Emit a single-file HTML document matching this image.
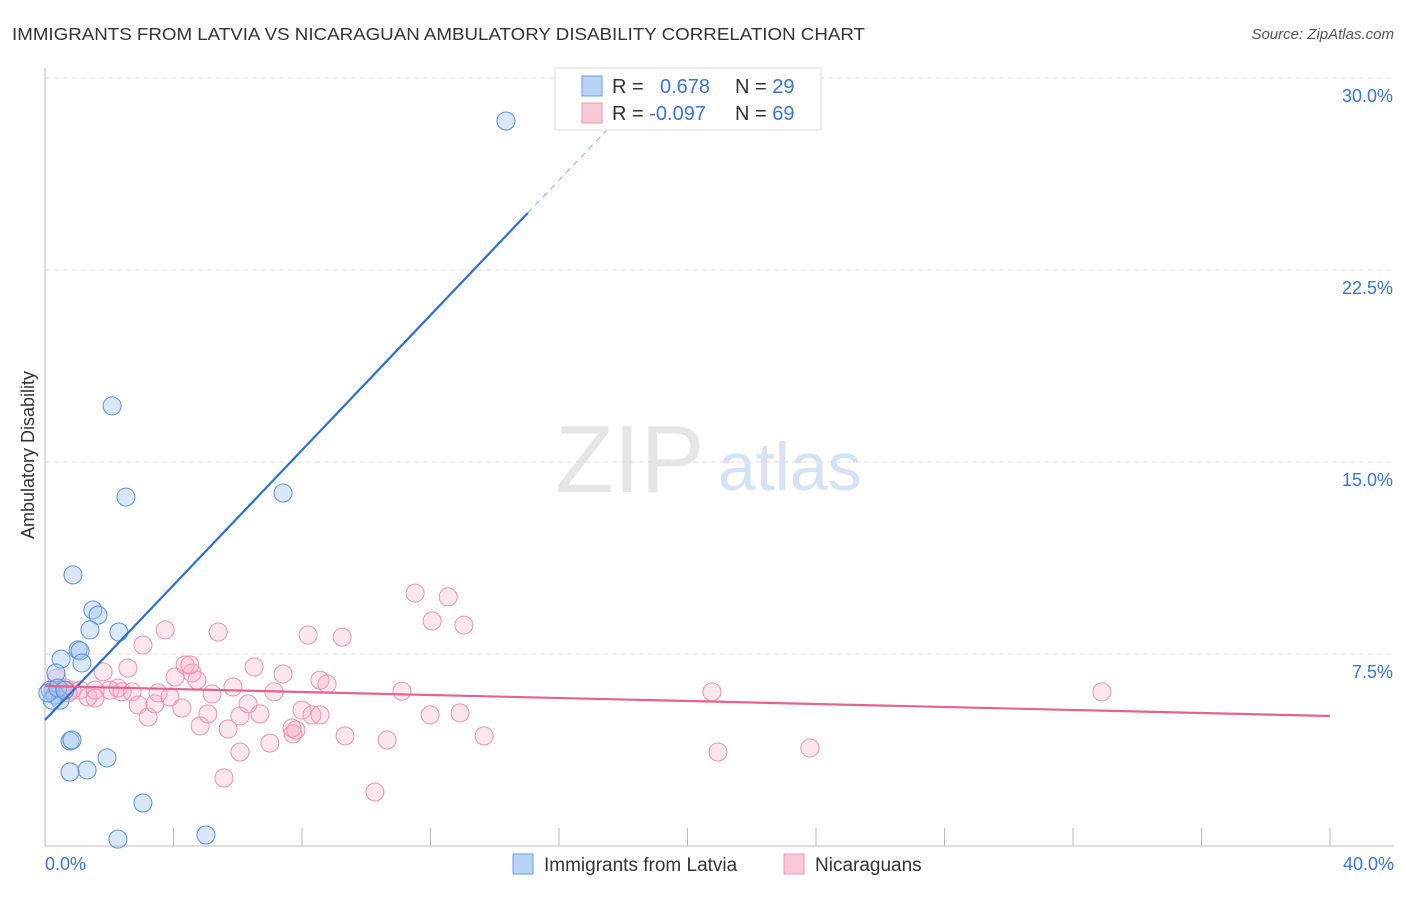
<!DOCTYPE html>
<html><head><meta charset="utf-8"><style>
body{margin:0;background:#fff;font-family:"Liberation Sans",sans-serif}
svg text{font-family:"Liberation Sans",sans-serif}
</style></head><body>
<svg width="1406" height="892" viewBox="0 0 1406 892">
<text x="12" y="40" font-size="17.5" fill="#333" textLength="853" lengthAdjust="spacingAndGlyphs">IMMIGRANTS FROM LATVIA VS NICARAGUAN AMBULATORY DISABILITY CORRELATION CHART</text>
<text x="1394" y="39" font-size="15" fill="#555" font-style="italic" text-anchor="end">Source: ZipAtlas.com</text>
<text x="555" y="492" font-size="96" fill="#e6e6e6" font-family="Liberation Serif">ZIP</text>
<text x="718" y="490" font-size="68" fill="#d6e3f5">atlas</text>
<g id="grid"></g>
<g id="axes"></g>
<text transform="translate(34,455) rotate(-90)" font-size="18" fill="#333" text-anchor="middle">Ambulatory Disability</text>
<g id="pts"></g>
<g id="lines"></g>
<g>
<rect x="555" y="68" width="266" height="62" fill="#fff" stroke="#ddd"/>
<rect x="582" y="76" width="20" height="20" fill="#b9d3f5" stroke="#6a9de0"/>
<rect x="582" y="103" width="20" height="20" fill="#fbc8d7" stroke="#ec98b2"/>
<text x="612" y="93" font-size="20" fill="#333">R = <tspan x="660" fill="#3a74d4">0.678</tspan><tspan x="735" fill="#333">N = </tspan><tspan fill="#3a74d4">29</tspan></text>
<text x="612" y="120" font-size="20" fill="#333">R = <tspan fill="#3a74d4">-0.097</tspan><tspan x="735" fill="#333">N = </tspan><tspan fill="#3a74d4">69</tspan></text>
</g>
<g>
<rect x="513" y="854" width="20" height="20" fill="#b9d3f5" stroke="#6a9de0"/>
<text x="544" y="871" font-size="19" fill="#333">Immigrants from Latvia</text>
<rect x="784" y="854" width="20" height="20" fill="#fbc8d7" stroke="#ec98b2"/>
<text x="815" y="871" font-size="19" fill="#333">Nicaraguans</text>
</g>
</svg>
<script>
const blueX=[14.35,2.09,2.52,7.41,0.87,1.49,1.65,1.40,2.30,1.03,1.09,1.15,0.50,0.34,0.16,0.31,0.47,0.22,0.78,0.84,1.93,0.78,1.31,3.05,2.27,5.01,0.09,0.40,0.62];
const blueY=[28.32,17.19,13.63,13.79,10.59,9.22,9.02,8.44,8.36,7.66,7.62,7.15,7.30,6.76,6.09,5.90,5.70,5.70,4.10,4.14,3.44,2.89,2.97,1.68,0.27,0.43,5.98,6.17,6.09];
const pinkX=[0.37,0.47,0.62,0.84,1.09,1.34,1.56,1.81,2.02,2.27,2.40,2.58,2.71,2.90,3.05,3.21,3.42,3.52,3.74,3.89,4.05,4.26,4.36,4.58,4.73,4.83,5.07,5.20,5.39,5.57,5.70,5.85,6.07,6.07,6.32,6.51,6.69,7.00,7.13,7.41,7.72,8.00,8.19,8.31,8.56,8.56,8.78,9.25,9.34,10.27,10.65,11.11,11.52,11.99,12.05,12.55,12.92,13.04,13.67,20.76,20.95,23.81,32.90,1.56,7.69,7.81,4.51,0.25,0.72];
const pinkY=[6.56,6.09,6.17,6.09,6.09,5.82,6.09,6.80,6.09,6.17,6.02,6.95,6.02,5.51,7.85,5.04,5.55,5.98,8.44,5.82,6.60,5.39,7.07,6.76,6.48,4.69,5.16,5.94,8.36,2.66,4.57,6.21,5.08,3.67,5.55,6.99,5.16,4.02,6.02,6.72,4.38,5.31,8.24,5.12,5.12,6.48,6.33,8.16,4.30,2.11,4.14,6.05,9.88,5.12,8.79,9.73,5.20,8.63,4.30,6.02,3.67,3.83,6.02,5.78,4.61,4.53,7.07,6.09,5.98];
const blueTrend=[4.92,1.318];
const pinkTrend=[6.25,-0.0293];
const yTicks=[7.5,15,22.5,30];
const xTickVals=[0,4,8,12,16,20,24,28,32,36,40];
const NS='http://www.w3.org/2000/svg';
const sx=v=>45+v*1285/40, sy=v=>846-v*25.6;
function mk(tag,attrs,parent){const e=document.createElementNS(NS,tag);for(const k in attrs)e.setAttribute(k,attrs[k]);parent.appendChild(e);return e;}
const grid=document.getElementById('grid'),axes=document.getElementById('axes'),pts=document.getElementById('pts'),lines=document.getElementById('lines');
yTicks.forEach(t=>{
 const l=mk('line',{x1:45,x2:1394,y1:sy(t),y2:sy(t),stroke:'#ddd','stroke-dasharray':'5,4'},grid);
 
 
 const tx=mk('text',{x:1393,y:sy(t)+24,'font-size':18,fill:'#3a74d4','text-anchor':'end'},grid);
 tx.textContent=t.toFixed(1)+'%';
 
 
});
mk('line',{x1:45,x2:45,y1:68,y2:846,stroke:'#bbb'},axes);
mk('line',{x1:45,x2:1394,y1:846,y2:846,stroke:'#bbb'},axes);
xTickVals.forEach(t=>{
 const l=mk('line',{x1:sx(t),x2:sx(t),y1:828,y2:846,stroke:'#bbb'},axes);
 
 
});
[[0,'0.0%','start',45],[40,'40.0%','end',1394]].forEach(a=>{
 const tx=mk('text',{x:a[3],y:870,'font-size':18,fill:'#3a74d4','text-anchor':a[2]},axes);
 tx.textContent=a[1];
 
 
});
pinkX.forEach((x,i)=>{
 const c=mk('circle',{cx:sx(x),cy:sy(pinkY[i]),r:9,fill:'rgba(246,170,195,0.28)',stroke:'#ec93ae','stroke-width':1},pts);
 
 
});
blueX.forEach((x,i)=>{
 const c=mk('circle',{cx:sx(x),cy:sy(blueY[i]),r:9,fill:'rgba(160,195,240,0.4)',stroke:'#5b8fd6','stroke-width':1},pts);
 
 
});
const bl=mk('line',{x1:sx(0),y1:sy(blueTrend[0]),x2:sx(15.03),y2:sy(blueTrend[0]+blueTrend[1]*15.03),stroke:'#2a6fd6','stroke-width':2.2},lines);


const bd=mk('line',{x1:sx(15.03),y1:sy(blueTrend[0]+blueTrend[1]*15.03),x2:sx(18),y2:sy(blueTrend[0]+blueTrend[1]*18),stroke:'#8fb0e0','stroke-width':1,'stroke-dasharray':'6,5'},lines);


const pl=mk('line',{x1:sx(0),y1:sy(pinkTrend[0]),x2:sx(40),y2:sy(pinkTrend[0]+pinkTrend[1]*40),stroke:'#e4638c','stroke-width':2.2},lines);


</script>
</body></html>
